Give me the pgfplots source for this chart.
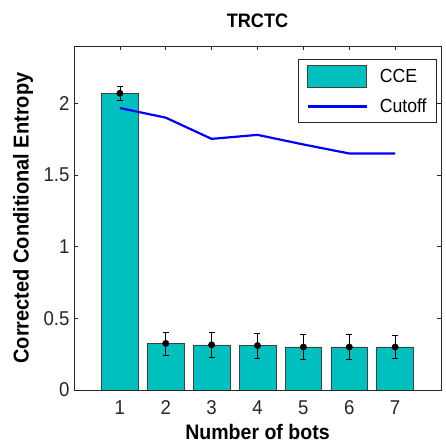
\documentclass[border=0pt]{standalone}
\usepackage{fontspec}
\setmainfont{Liberation Sans}[FakeStretch=0.93]
\usepackage{pgfplots}
\pgfplotsset{compat=1.18}
\definecolor{barfill}{rgb}{0,0.75,0.75}
\definecolor{axisgray}{rgb}{0.15,0.15,0.15}

% CCE means, error half-widths, and cutoff per number of bots
\pgfplotstableread{
x  cce    err    cut
1  2.07   0.050  1.967
2  0.325  0.080  1.900
3  0.315  0.085  1.752
4  0.310  0.087  1.780
5  0.300  0.088  1.713
6  0.300  0.088  1.650
7  0.300  0.080  1.650
}\datatable

\begin{document}
\begin{tikzpicture}
\begin{axis}[
  scale only axis,
  width=367pt, height=344pt,
  xmin=0, xmax=8, ymin=0, ymax=2.4,
  xtick={1,...,7},
  ytick={0,0.5,1,1.5,2},
  tick align=inside,
  major tick length=4pt,
  axis line style={axisgray, line width=0.6pt},
  tick style={axisgray, line width=0.6pt},
  font=\fontsize{20}{23}\selectfont,
  tick label style={font=\fontsize{20}{23}\selectfont, text=axisgray},
  /pgf/number format/assume math mode=true,
  yticklabel style={xshift=-1pt},
  xticklabel style={yshift=-7pt},
  title={\bfseries TRCTC},
  title style={at={(axis description cs:0.5,1)}, anchor=center, yshift=19pt,
    font=\fontsize{19.5}{22}\selectfont},
  xlabel={\bfseries Number of bots},
  ylabel={\bfseries Corrected Conditional Entropy},
  xlabel style={at={(axis description cs:0.5,0)}, anchor=center, yshift=-42pt,
    font=\fontsize{21}{24}\selectfont},
  ylabel style={at={(axis description cs:0,0.5)}, anchor=center, rotate=0, yshift=51pt,
    font=\fontsize{21.5}{24}\selectfont},
  legend style={at={(0.989,0.962)}, anchor=north east,
    draw=axisgray, line width=0.6pt, font=\fontsize{19}{22}\selectfont,
    inner xsep=8pt, inner ysep=6pt, row sep=9pt, cells={anchor=west}},
  legend cell align=left,
]
\addplot[ybar, bar width=0.8, fill=barfill, draw=black!75, line width=0.6pt,
  area legend,
  legend image code/.code={\draw[fill=barfill, draw=black!75, line width=0.6pt] (0pt,-11pt) rectangle (59pt,11pt);}]
  table[x=x, y=cce] {\datatable};
\addlegendentry{\hspace{10pt}CCE}
\addplot[blue, line width=2.2pt, mark=none,
  legend image code/.code={\draw[blue, line width=2.2pt] (0pt,0pt) -- (59pt,0pt);}]
  table[x=x, y=cut] {\datatable};
\addlegendentry{\hspace{10pt}Cutoff}
\addplot[only marks, mark=*, mark size=3.2pt, black, forget plot,
  error bars/.cd, y dir=both, y explicit,
  error bar style={black, line width=0.6pt},
  error mark options={rotate=90, mark size=3pt, black, line width=0.6pt}]
  table[x=x, y=cce, y error=err] {\datatable};
\end{axis}
\pgfresetboundingbox
\useasboundingbox ([xshift=-74pt,yshift=-53pt]current axis.south west) rectangle ([xshift=5pt,yshift=46pt]current axis.north east);
\end{tikzpicture}
\end{document}
